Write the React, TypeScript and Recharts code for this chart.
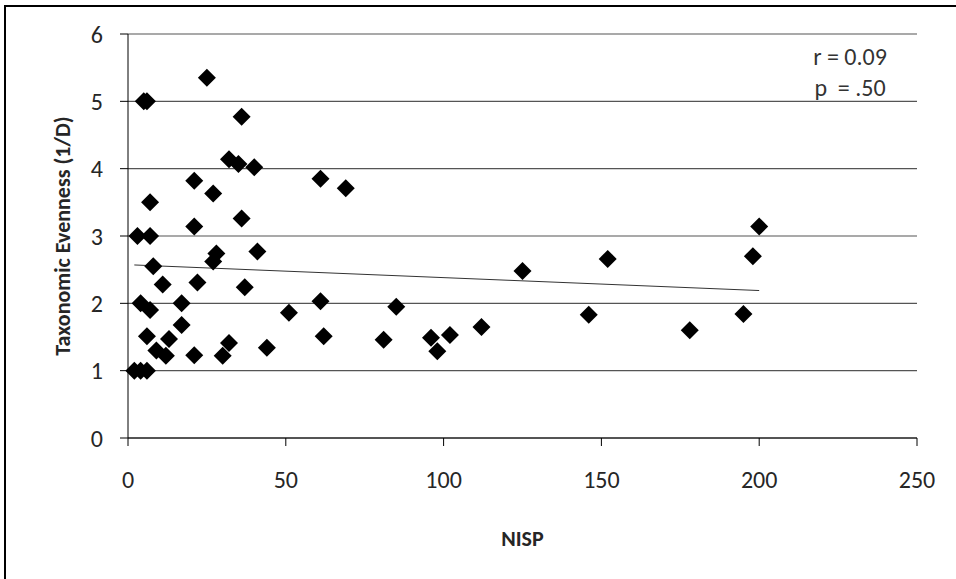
import { CartesianGrid, ReferenceLine, Scatter, ScatterChart, XAxis, YAxis } from 'recharts'

// NISP per assemblage
const nisp = [
  2, 4, 6, 3, 4, 5, 6, 6, 7, 7, 7, 8, 9, 11, 12, 13, 17, 17, 21, 21, 21, 22, 25, 27, 27, 28, 30,
  32, 32, 35, 36, 36, 37, 40, 41, 44, 51, 61, 61, 62, 69, 81, 85, 96, 98, 102, 112, 125, 146, 152,
  178, 195, 198, 200,
]
// inverse Simpson's index (1/D)
const evenness = [
  1.0, 1.0, 1.0, 3.0, 2.0, 5.0, 5.0, 1.51, 3.5, 3.0, 1.9, 2.55, 1.3, 2.28, 1.22, 1.47, 2.0, 1.68,
  3.82, 3.14, 1.23, 2.31, 5.35, 3.63, 2.62, 2.74, 1.22, 4.14, 1.41, 4.07, 4.77, 3.26, 2.24, 4.02,
  2.77, 1.34, 1.86, 3.85, 2.03, 1.51, 3.71, 1.46, 1.95, 1.49, 1.29, 1.53, 1.65, 2.48, 1.83, 2.66,
  1.6, 1.84, 2.7, 3.14,
]
// linear trend, end points
const trendX = [2, 200]
const trendY = [2.57, 2.19]

const xTicks = [0, 50, 100, 150, 200, 250]
const yTicks = [0, 1, 2, 3, 4, 5, 6]

const points = nisp.map((x, i) => ({ x, y: evenness[i] }))

const FONT = 'Carlito, Calibri, Lato, sans-serif'
const TXT = '#262626'

function Diamond({ cx, cy }: any) {
  const r = 9
  return <polygon points={`${cx},${cy - r} ${cx + r},${cy} ${cx},${cy + r} ${cx - r},${cy}`} fill="#000" />
}

export default function App() {
  return (
    <div style={{ position: 'absolute', left: 0, top: 0, width: 956, height: 579, background: '#fff', overflow: 'hidden', fontFamily: FONT }}>
      <div style={{ position: 'absolute', left: 4, top: 5, width: 1000, height: 1000, border: '2px solid #000', boxSizing: 'border-box' }} />
      <ScatterChart width={956} height={579} margin={{ top: 34, right: 39, bottom: 0, left: 0 }} style={{ position: 'absolute', left: 0, top: 0 }}>
        <CartesianGrid vertical={false} stroke="#555" strokeWidth={1.2} />
        <XAxis
          type="number"
          dataKey="x"
          domain={[0, 250]}
          ticks={xTicks}
          height={141}
          stroke="#000"
          tickSize={8}
          tickMargin={25}
          tick={{ fill: TXT, fontSize: 24, fontFamily: FONT }}
          label={{ value: 'NISP', position: 'center', dy: 30, fill: TXT, fontSize: 22, fontWeight: 'bold', fontFamily: FONT }}
        />
        <YAxis
          type="number"
          dataKey="y"
          domain={[0, 6]}
          ticks={yTicks}
          width={128}
          stroke="#000"
          tickSize={8}
          tickMargin={17}
          tick={{ fill: TXT, fontSize: 24, fontFamily: FONT }}
          label={{ value: 'Taxonomic Evenness (1/D)', angle: -90, position: 'center', dx: -2, fill: TXT, fontSize: 22, fontWeight: 'bold', fontFamily: FONT }}
        />
        <ReferenceLine
          segment={[{ x: trendX[0], y: trendY[0] }, { x: trendX[1], y: trendY[1] }]}
          stroke="#333"
          strokeWidth={1}
          ifOverflow="visible"
        />
        <Scatter data={points} shape={<Diamond />} isAnimationActive={false} />
      </ScatterChart>
      <div style={{ position: 'absolute', left: 790, top: 41, width: 120, textAlign: 'center', fontSize: 24, color: '#333', lineHeight: '31px', whiteSpace: 'pre' }}>
        {'r = 0.09\np  = .50'}
      </div>
    </div>
  )
}
